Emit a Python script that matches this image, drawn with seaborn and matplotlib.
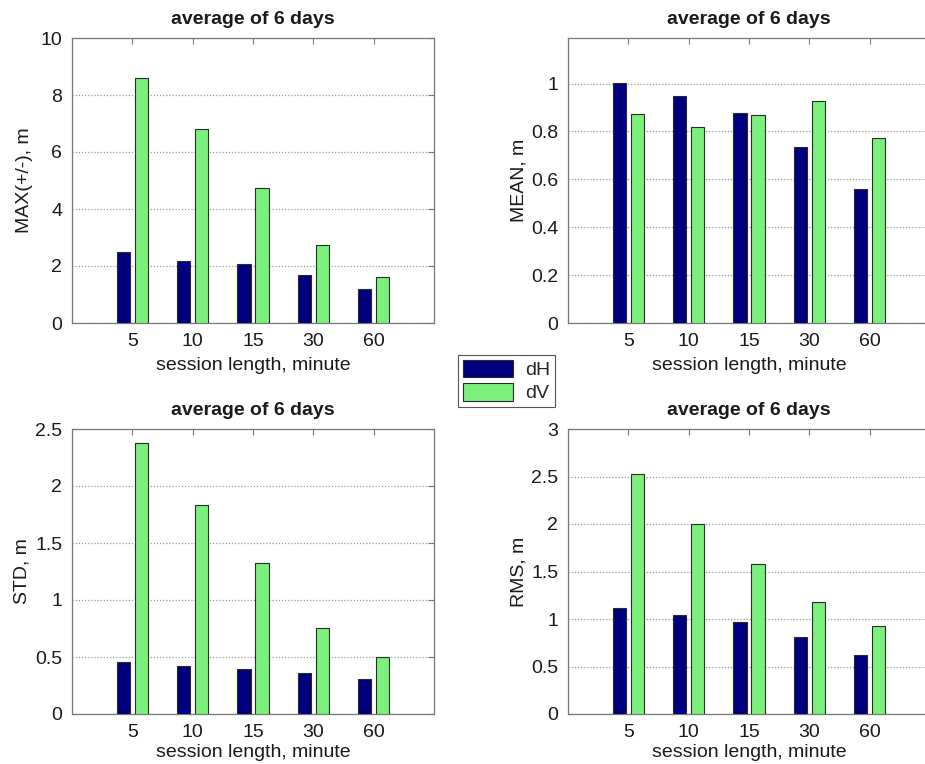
import numpy as np
import pandas as pd
import matplotlib
matplotlib.use("Agg")
import matplotlib.pyplot as plt
import seaborn as sns

# Session lengths (minutes) and series names
sessions = ["5", "10", "15", "30", "60"]
series = ["dH", "dV"]

# Statistics averaged over 6 days, metres
max_dH = [2.49, 2.19, 2.07, 1.69, 1.19]
max_dV = [8.60, 6.81, 4.75, 2.72, 1.60]
mean_dH = [1.004, 0.946, 0.876, 0.735, 0.559]
mean_dV = [0.874, 0.820, 0.870, 0.926, 0.774]
std_dH = [0.457, 0.424, 0.398, 0.360, 0.304]
std_dV = [2.377, 1.833, 1.326, 0.752, 0.500]
rms_dH = [1.116, 1.039, 0.965, 0.814, 0.621]
rms_dV = [2.526, 2.004, 1.579, 1.175, 0.923]

ylabels = ["MAX(+/-), m", "MEAN, m", "STD, m", "RMS, m"]
yticks = [
    [0, 2, 4, 6, 8, 10],
    [0, 0.2, 0.4, 0.6, 0.8, 1.0],
    [0, 0.5, 1.0, 1.5, 2.0, 2.5],
    [0, 0.5, 1.0, 1.5, 2.0, 2.5, 3.0],
]
ylims = [(0, 10), (0, 1.19), (0, 2.5), (0, 3)]
title = "average of 6 days"
xlabel = "session length, minute"

panels = [
    (max_dH, max_dV),
    (mean_dH, mean_dV),
    (std_dH, std_dV),
    (rms_dH, rms_dV),
]

palette = {"dH": "#00007f", "dV": "#7cf07c"}

sns.set_theme(style="white")
plt.rcParams["font.family"] = ["Liberation Sans", "DejaVu Sans"]
plt.rcParams["font.size"] = 14

fig = plt.figure(figsize=(9.25, 7.64), dpi=100)

W, H = 925, 764
ax_w, ax_h = 362, 285
lefts = [72, 568, 72, 568]
tops = [38, 38, 429, 429]
ylab_x = [-0.130, -0.135, -0.137, -0.135]
xlab_y = [-0.150, -0.150, -0.135, -0.135]

axes = []
for i, (d_h, d_v) in enumerate(panels):
    ax = fig.add_axes([lefts[i] / W, 1 - (tops[i] + ax_h) / H, ax_w / W, ax_h / H])
    df = pd.DataFrame({
        "session": sessions * 2,
        "series": [series[0]] * len(sessions) + [series[1]] * len(sessions),
        "value": list(d_h) + list(d_v),
    })
    sns.barplot(data=df, x="session", y="value", hue="series",
                order=sessions, hue_order=series, palette=palette,
                width=0.6, gap=0.27, edgecolor="#2a2a2a", linewidth=0.8,
                saturation=1, legend=(i == 0), ax=ax, zorder=3)
    ax.set_xlim(-1, 5)
    ax.set_ylim(*ylims[i])
    ax.set_yticks(yticks[i])
    ax.set_yticklabels(["%g" % t for t in yticks[i]])
    ax.grid(axis="y", linestyle=(0, (1, 1.5)), color="#9a9a9a", linewidth=0.9, zorder=0)
    ax.set_axisbelow(True)
    ax.tick_params(axis="both", direction="in", length=4, width=0.8,
                   top=True, right=True, colors="#777777", labelcolor="#1a1a1a",
                   labelsize=14, pad=7)
    for s in ax.spines.values():
        s.set_color("#777777")
        s.set_linewidth(0.9)
    ax.set_title(title, fontsize=14, fontweight="bold", color="#1a1a1a", pad=10)
    ax.set_xlabel(xlabel, fontsize=14, color="#1a1a1a")
    ax.xaxis.label.set_verticalalignment("center")
    ax.xaxis.set_label_coords(0.5, xlab_y[i])
    ax.set_ylabel(ylabels[i], fontsize=14, color="#1a1a1a")
    ax.yaxis.label.set_verticalalignment("center")
    ax.yaxis.set_label_coords(ylab_x[i], 0.5)
    axes.append(ax)

handles, labels = axes[0].get_legend_handles_labels()
axes[0].get_legend().remove()
leg = fig.legend(handles, labels, loc="upper left",
                 bbox_to_anchor=(458 / W, 1 - 355 / H),
                 fancybox=False, framealpha=1, edgecolor="#555555",
                 fontsize=14, handlelength=2.6, handleheight=1.0,
                 borderpad=0.25, labelspacing=0.2, handletextpad=0.6,
                 borderaxespad=0)
leg.get_frame().set_linewidth(0.8)

fig.savefig("out.png", dpi=100)
